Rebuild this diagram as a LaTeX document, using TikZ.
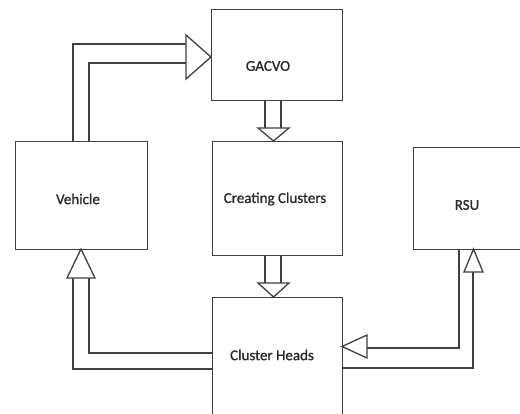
\documentclass[tikz,border=0pt]{standalone}
\usepackage{fontspec}
\setmainfont{Carlito}
\newfontfamily\lblfont[FakeBold=1.0]{Carlito}
\definecolor{ln}{HTML}{404040}
\definecolor{tx}{HTML}{2A2A2A}
\begin{document}
\begin{tikzpicture}[x=1pt,y=-1pt,
  box/.style={draw=ln, line width=1.3pt, fill=white, inner sep=0pt, anchor=north west},
  lbl/.style={text=tx, font=\lblfont\fontsize{15}{18}\selectfont, inner sep=0pt},
  conn/.style={draw=ln, line width=1.3pt, line join=miter},
  head/.style={draw=ln, line width=1.3pt, fill=white, line join=miter}]
\useasboundingbox (0,0) rectangle (520,413);
\clip (0,0) rectangle (520,413);
% boxes
\node[box, minimum width=131pt, minimum height=91pt] (gacvo) at (211,9) {};
\node[box, minimum width=132pt, minimum height=108pt] (veh) at (15,141) {};
\node[box, minimum width=130pt, minimum height=114pt] (cc) at (212,141) {};
\node[box, minimum width=120pt, minimum height=102pt] (rsu) at (413,147) {};
\node[box, minimum width=130pt, minimum height=130pt] (ch) at (212,297) {};
% labels
\node[lbl] (tg) at (268,66) {GACVO};
\node[lbl] (tv) at (78,199) {Vehicle};
\node[lbl] (tc) at (275,199) {Creating Clusters};
\node[lbl] (tr) at (467,205) {RSU};
\node[lbl] (th) at (272,355) {Cluster Heads};
% Vehicle -> GACVO
\draw[conn] (73,141) -- (73,44) -- (186,44);
\draw[conn] (89,141) -- (89,63) -- (186,63);
\draw[head] (186,35) -- (211,57) -- (186,79) -- cycle;
% GACVO -> Creating Clusters
\draw[conn] (265,100) -- (265,128);
\draw[conn] (281,100) -- (281,128);
\draw[head] (258,128) -- (289,128) -- (273.5,141) -- cycle;
% Creating Clusters -> Cluster Heads
\draw[conn] (265,255) -- (265,283);
\draw[conn] (281,255) -- (281,283);
\draw[head] (258,283) -- (289,283) -- (273.5,297) -- cycle;
% Cluster Heads -> Vehicle
\draw[conn] (212,369) -- (73,369) -- (73,278);
\draw[conn] (212,353) -- (89,353) -- (89,278);
\draw[head] (67,278) -- (95,278) -- (81,249) -- cycle;
% RSU -> Cluster Heads
\draw[conn] (459,249) -- (459,348) -- (367,348);
\draw[head] (367,335) -- (367,358) -- (342,346.5) -- cycle;
% Cluster Heads -> RSU
\draw[conn] (342,368) -- (473,368) -- (473,272);
\draw[head] (464,272) -- (483,272) -- (473.5,249) -- cycle;
\end{tikzpicture}
\end{document}
